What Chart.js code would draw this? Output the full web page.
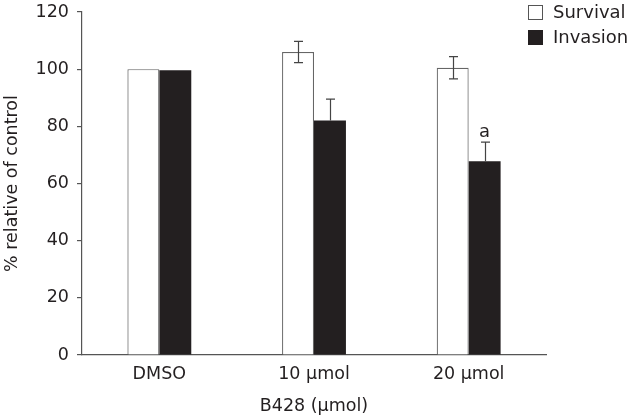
<!DOCTYPE html>
<html>
<head>
<meta charset="utf-8">
<script src="https://cdn.jsdelivr.net/npm/chart.js@4"></script>
<style>
html,body{margin:0;padding:0;background:#fff;}
#wrap{width:630px;height:417px;position:relative;}
</style>
</head>
<body>
<div id="wrap"><canvas id="c" width="630" height="417"></canvas></div>
<script>
const categories = ['DMSO', '10 \u03bcmol', '20 \u03bcmol'];
const seriesNames = ['Survival', 'Invasion'];
const survival = [100, 106, 100.5];
const invasion = [99.6, 82, 67.8];
const survivalErr = [0, 3.7, 3.9];
const invasionErr = [0, 7.5, 6.7];
const sigLabels = ['', '', 'a'];
const yTicks = [0, 20, 40, 60, 80, 100, 120];
const xTitle = 'B428 (\u03bcmol)';
const yTitle = '% relative of control';

const FONT = '"DejaVu Sans", Verdana, sans-serif';
const TXT = '#231f20';
const AX = '#555555';

const errPlugin = {
  id: 'errbars',
  afterDatasetsDraw(chart) {
    const ctx = chart.ctx;
    const y = chart.scales.y;
    const errs = [survivalErr, invasionErr];
    ctx.save();
    ctx.strokeStyle = '#444';
    ctx.lineWidth = 1.2;
    chart.data.datasets.forEach((ds, di) => {
      const meta = chart.getDatasetMeta(di);
      meta.data.forEach((bar, i) => {
        const e = errs[di][i];
        if (!e) return;
        const v = ds.data[i];
        const x = Math.round(bar.x) + 0.5;
        const yt = y.getPixelForValue(v + e);
        const yb = di === 0 ? y.getPixelForValue(v - e) : y.getPixelForValue(v);
        ctx.beginPath();
        ctx.moveTo(x, yt); ctx.lineTo(x, yb);
        ctx.moveTo(x - 4.5, yt); ctx.lineTo(x + 4.5, yt);
        if (di === 0) { ctx.moveTo(x - 4.5, yb); ctx.lineTo(x + 4.5, yb); }
        ctx.stroke();
        if (di === 1 && sigLabels[i]) {
          ctx.fillStyle = TXT;
          ctx.font = '18px ' + FONT;
          ctx.textAlign = 'center';
          ctx.textBaseline = 'alphabetic';
          ctx.fillText(sigLabels[i], bar.x, yt - 5);
        }
      });
    });
    // legend
    const lx = 528, ly = [5, 30];
    ctx.font = '18px ' + FONT;
    ctx.textAlign = 'left';
    ctx.textBaseline = 'middle';
    seriesNames.forEach((n, k) => {
      ctx.fillStyle = k === 0 ? '#ffffff' : '#231f20';
      ctx.fillRect(lx, ly[k], 15, 15);
      ctx.strokeStyle = k === 0 ? '#555' : '#231f20';
      ctx.lineWidth = 1;
      ctx.strokeRect(lx + 0.5, ly[k] + 0.5, 14, 14);
      ctx.fillStyle = TXT;
      ctx.fillText(n, 553, ly[k] + 8);
    });
    ctx.restore();
  }
};

new Chart(document.getElementById('c'), {
  type: 'bar',
  data: {
    labels: categories,
    datasets: [
      { label: seriesNames[0], data: survival, backgroundColor: '#ffffff', borderColor: '#666666', borderWidth: 1.2,
        categoryPercentage: 0.413, barPercentage: 1 },
      { label: seriesNames[1], data: invasion, backgroundColor: '#231f20', borderColor: '#231f20', borderWidth: 0,
        categoryPercentage: 0.413, barPercentage: 1 }
    ]
  },
  options: {
    responsive: false,
    animation: false,
    devicePixelRatio: 1,
    layout: { padding: { top: 12, right: 84, left: 0, bottom: 0 } },
    plugins: { legend: { display: false }, tooltip: { enabled: false } },
    scales: {
      x: {
        grid: { display: false, drawTicks: false },
        border: { display: true, color: AX, width: 1.2 },
        ticks: { color: TXT, font: { family: FONT, size: 17.5 }, padding: 9 },
        title: { display: true, text: xTitle, color: TXT, font: { family: FONT, size: 17.5 }, padding: { top: 2, bottom: 0 } },
        afterFit(s) { s.height = 62; s.paddingLeft = 0; s.paddingRight = 0; }
      },
      y: {
        min: 0, max: 120,
        afterBuildTicks(s) { s.ticks = yTicks.map(v => ({ value: v })); },
        grid: { drawOnChartArea: false, drawTicks: true, tickLength: 5, color: AX, lineWidth: 1.2 },
        border: { display: true, color: AX, width: 1.2 },
        ticks: { color: TXT, font: { family: FONT, size: 17.5 }, padding: 8 },
        title: { display: true, text: yTitle, color: TXT, font: { family: FONT, size: 17.5 }, padding: { top: 2, bottom: 0 } },
        afterFit(s) { s.width = 82; s.paddingTop = 0; s.paddingBottom = 0; }
      }
    }
  },
  plugins: [errPlugin]
});
</script>
</body>
</html>
